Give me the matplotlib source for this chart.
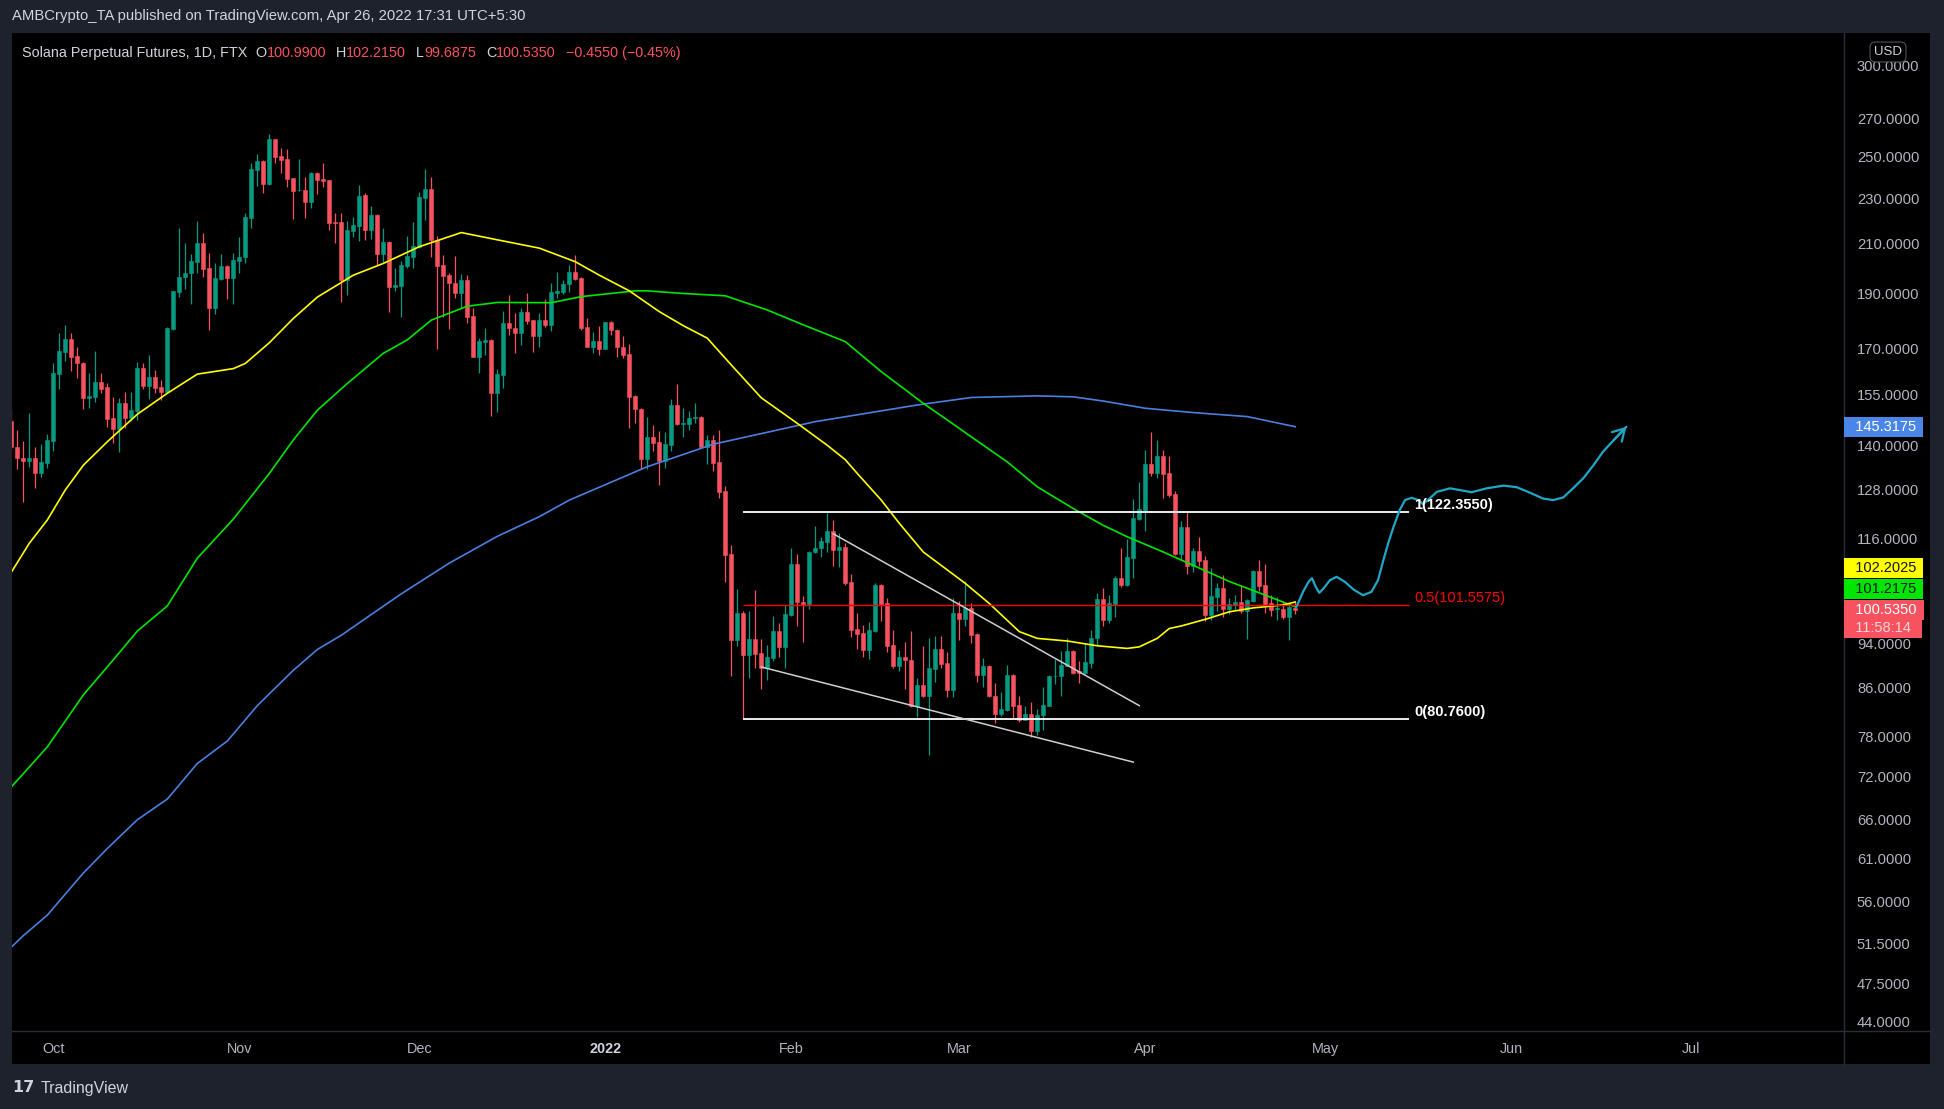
import matplotlib
matplotlib.use('Agg')
import matplotlib.pyplot as plt
import matplotlib.dates as mdates
from matplotlib.lines import Line2D
from matplotlib.patches import Rectangle
from matplotlib.ticker import NullLocator, NullFormatter
import numpy as np
import pandas as pd

plt.rcParams['font.family'] = ['Liberation Sans', 'DejaVu Sans']

# ---- daily candles, SOL-PERP (FTX), 2021-09-24 .. 2022-04-26 ----
dates = pd.date_range('2021-09-24', '2022-04-26', freq='D')
opens = [
    147.0, 139.6, 136.6, 135.7, 136.6, 132.3, 135.2, 141.3, 161.6, 169.0,
    173.3, 167.5, 165.1, 154.0, 154.3, 158.9, 157.3, 147.8, 144.6, 152.3,
    148.0, 150.1, 163.6, 157.8, 160.7, 157.3, 155.8, 176.9, 190.6, 196.2,
    198.0, 202.4, 210.0, 199.7, 184.5, 195.5, 200.7, 196.0, 202.8, 204.4,
    221.1, 243.4, 247.7, 236.6, 258.9, 250.2, 248.7, 239.3, 233.7, 233.8,
    228.3, 242.0, 239.0, 238.5, 219.2, 219.2, 195.1, 215.4, 217.6, 231.4,
    215.7, 222.3, 205.5, 210.5, 192.5, 192.9, 200.8, 204.4, 208.6, 230.2,
    234.2, 211.6, 201.1, 197.1, 194.1, 190.2, 195.1, 181.5, 167.3, 172.1,
    173.0, 155.4, 161.2, 179.1, 177.1, 175.5, 182.9, 180.0, 174.2, 180.0,
    178.3, 190.2, 190.4, 193.4, 198.3, 195.8, 177.6, 170.6, 172.6, 170.0,
    179.3, 176.5, 170.6, 168.2, 154.6, 150.6, 136.3, 142.4, 140.9, 135.7,
    140.1, 151.8, 146.1, 146.2, 147.8, 148.3, 139.6, 141.5, 135.4, 127.7,
    112.5, 94.6, 100.0, 91.9, 94.9, 92.3, 89.6, 91.4, 96.4, 93.3,
    99.6, 110.3, 102.2, 101.8, 112.9, 113.9, 115.3, 117.8, 113.5, 114.1,
    106.4, 96.8, 96.0, 92.8, 96.5, 105.8, 102.0, 93.8, 89.9, 91.6,
    91.0, 83.0, 86.5, 84.7, 89.4, 93.0, 90.4, 85.7, 99.9, 98.8,
    100.9, 95.8, 88.3, 89.9, 84.7, 81.6, 82.3, 88.3, 83.1, 80.7,
    81.6, 78.8, 81.4, 83.0, 88.0, 88.0, 89.9, 92.7, 88.9, 88.6,
    90.5, 95.0, 102.8, 98.6, 101.8, 107.3, 105.7, 111.7, 120.8, 122.9,
    134.8, 132.5, 137.0, 132.4, 127.0, 112.6, 118.9, 109.9, 113.2, 111.1,
    99.6, 103.3, 105.2, 100.8, 101.5, 102.3, 100.3, 102.4, 108.8, 105.7,
    101.9, 100.7, 100.8, 99.1, 100.99,
]
highs = [
    150.6, 144.3, 141.3, 149.3, 139.6, 140.4, 143.1, 165.3, 175.3, 178.1,
    175.3, 170.5, 165.6, 161.8, 169.2, 161.8, 158.6, 154.4, 153.8, 155.8,
    155.9, 165.6, 165.0, 167.8, 163.0, 159.6, 177.4, 191.0, 216.4, 210.0,
    205.4, 219.7, 214.6, 205.8, 201.7, 205.4, 201.1, 206.1, 212.8, 223.0,
    246.6, 251.3, 248.5, 261.6, 259.2, 254.5, 253.8, 239.6, 248.6, 240.1,
    242.5, 242.5, 246.6, 238.7, 223.0, 223.0, 219.7, 221.5, 236.1, 232.2,
    226.3, 222.7, 216.7, 210.8, 200.0, 202.8, 213.1, 219.4, 233.0, 243.8,
    239.8, 213.1, 205.1, 197.7, 204.7, 197.3, 197.0, 184.5, 173.8, 177.1,
    173.2, 163.3, 183.3, 189.3, 182.7, 184.5, 189.9, 180.2, 182.5, 187.8,
    193.8, 198.1, 195.1, 201.1, 205.1, 196.4, 180.9, 175.7, 177.9, 179.5,
    179.7, 176.7, 174.2, 171.6, 154.8, 150.8, 148.3, 145.8, 144.1, 143.9,
    153.6, 158.4, 151.0, 150.0, 152.3, 148.5, 142.9, 142.9, 144.3, 129.0,
    114.6, 104.9, 100.3, 100.3, 104.7, 94.9, 93.8, 99.3, 97.9, 101.6,
    113.8, 112.5, 103.4, 113.2, 119.1, 116.5, 122.1, 120.5, 117.3, 115.0,
    108.2, 99.9, 97.5, 98.2, 106.2, 106.0, 103.0, 96.6, 92.8, 94.3,
    96.4, 87.7, 93.6, 95.0, 95.4, 95.4, 92.5, 103.0, 102.4, 106.7,
    101.9, 96.0, 91.4, 90.1, 86.8, 85.3, 90.1, 88.4, 84.7, 83.0,
    83.6, 82.4, 86.2, 88.3, 91.1, 92.7, 95.0, 92.8, 90.8, 94.1,
    96.6, 104.0, 105.1, 103.6, 107.7, 114.0, 116.0, 125.7, 130.0, 138.7,
    143.8, 141.5, 138.7, 137.0, 127.7, 120.3, 122.7, 113.8, 116.5, 112.0,
    109.4, 106.1, 107.9, 103.1, 103.6, 105.7, 102.8, 109.0, 111.1, 110.2,
    103.6, 103.3, 102.4, 101.9, 102.215,
]
lows = [
    138.5, 133.6, 124.9, 134.1, 128.4, 131.3, 133.8, 138.4, 156.7, 165.9,
    162.6, 160.4, 150.5, 150.8, 152.8, 155.4, 145.3, 140.5, 138.1, 144.8,
    147.0, 147.3, 156.7, 153.5, 155.4, 153.3, 155.4, 176.5, 188.7, 191.8,
    185.8, 197.7, 196.4, 176.3, 182.1, 195.1, 187.9, 186.1, 197.7, 201.7,
    216.4, 235.8, 232.2, 236.3, 246.6, 241.7, 235.3, 220.4, 233.5, 221.1,
    225.3, 231.7, 235.3, 215.7, 210.3, 186.8, 189.3, 212.8, 211.0, 211.4,
    211.7, 201.1, 202.4, 183.1, 190.9, 181.2, 200.0, 200.0, 207.9, 220.1,
    204.4, 169.8, 181.2, 176.8, 188.0, 184.6, 179.0, 167.0, 161.8, 167.8,
    148.5, 149.8, 157.2, 174.7, 168.6, 171.3, 178.6, 169.0, 170.7, 177.5,
    176.0, 188.0, 189.7, 190.6, 195.1, 176.5, 170.4, 168.6, 167.8, 169.8,
    174.7, 167.0, 166.7, 144.8, 146.5, 133.4, 133.6, 138.3, 129.2, 133.8,
    138.5, 145.8, 142.4, 144.3, 146.5, 139.4, 134.8, 132.9, 125.9, 106.4,
    88.1, 93.5, 80.76, 87.7, 89.5, 85.8, 87.3, 90.7, 91.6, 89.5,
    99.4, 97.3, 94.3, 100.7, 112.7, 111.9, 113.0, 109.9, 109.7, 105.8,
    95.3, 93.0, 91.6, 91.1, 96.3, 98.4, 92.5, 89.6, 88.9, 85.8,
    82.8, 81.2, 84.5, 75.2, 87.1, 89.6, 84.4, 84.4, 94.6, 97.4,
    94.2, 87.1, 86.1, 84.4, 80.1, 81.3, 82.1, 80.8, 80.3, 80.6,
    77.9, 78.2, 79.0, 82.9, 86.7, 84.7, 89.8, 88.5, 86.9, 88.5,
    89.5, 93.7, 97.3, 97.9, 99.1, 105.4, 105.6, 107.3, 120.5, 117.8,
    131.7, 131.0, 126.0, 126.3, 112.4, 111.1, 108.2, 108.6, 109.8, 98.4,
    98.6, 100.3, 99.1, 99.8, 100.6, 99.9, 94.9, 102.3, 104.5, 100.0,
    99.4, 98.6, 98.8, 94.6, 99.6875,
]
closes = [
    139.6, 136.4, 135.7, 136.6, 132.3, 135.3, 141.5, 161.8, 169.2, 173.3,
    167.3, 165.1, 154.0, 154.6, 158.9, 156.9, 147.7, 144.6, 152.3, 148.0,
    150.3, 163.6, 157.8, 160.7, 157.2, 155.8, 177.1, 190.8, 196.4, 198.0,
    202.7, 210.0, 199.6, 184.5, 195.8, 200.7, 196.0, 203.1, 204.3, 221.5,
    243.8, 247.7, 236.6, 258.9, 249.9, 248.2, 239.1, 233.5, 233.9, 228.3,
    242.0, 238.5, 238.0, 218.9, 218.7, 195.1, 215.7, 217.9, 230.9, 215.7,
    222.3, 205.5, 210.5, 192.5, 193.1, 201.1, 204.8, 208.9, 230.5, 234.2,
    211.6, 200.8, 196.8, 193.8, 190.2, 195.1, 181.2, 167.3, 172.6, 173.0,
    155.4, 161.6, 179.1, 177.0, 175.5, 182.9, 179.7, 174.2, 180.0, 178.3,
    190.4, 190.8, 193.5, 198.3, 195.5, 177.3, 170.6, 172.6, 170.0, 179.3,
    176.3, 170.4, 167.8, 154.4, 150.5, 136.3, 142.4, 140.7, 135.7, 140.3,
    151.8, 146.1, 146.5, 148.0, 148.3, 139.6, 141.5, 135.1, 127.5, 112.3,
    94.6, 100.0, 91.9, 94.9, 92.1, 89.6, 91.5, 96.4, 93.3, 99.8,
    110.3, 102.1, 101.8, 113.0, 114.0, 115.5, 117.8, 113.5, 114.1, 106.2,
    96.6, 95.9, 92.8, 96.6, 105.8, 101.7, 93.6, 89.9, 91.6, 90.9,
    83.0, 86.5, 84.7, 89.5, 93.0, 90.3, 85.7, 99.9, 98.8, 100.9,
    95.6, 88.3, 89.9, 84.6, 81.6, 82.4, 88.3, 83.0, 80.7, 81.6,
    78.8, 81.5, 83.1, 88.1, 88.1, 90.1, 92.7, 88.7, 88.6, 90.6,
    95.0, 102.8, 98.6, 101.9, 107.3, 105.7, 111.9, 121.0, 123.2, 134.8,
    132.5, 137.0, 132.1, 126.7, 112.6, 118.9, 109.9, 113.2, 111.0, 99.6,
    103.5, 105.2, 100.8, 101.7, 102.3, 100.3, 102.6, 108.8, 105.6, 101.7,
    100.6, 100.9, 99.1, 101.1, 100.535,
]

# ---- moving averages ----
ma_yellow_dates = ['2021-09-24', '2021-09-27', '2021-09-30', '2021-10-03', '2021-10-06', '2021-10-10',
                   '2021-10-15', '2021-10-20', '2021-10-25', '2021-10-31', '2021-11-02', '2021-11-06',
                   '2021-11-10', '2021-11-14', '2021-11-20', '2021-11-25', '2021-12-01', '2021-12-08',
                   '2021-12-14', '2021-12-21', '2021-12-27', '2021-12-31', '2022-01-05', '2022-01-10',
                   '2022-01-14', '2022-01-18', '2022-01-22', '2022-01-27', '2022-02-02', '2022-02-07',
                   '2022-02-10', '2022-02-12', '2022-02-16', '2022-02-19', '2022-02-23', '2022-02-27',
                   '2022-03-02', '2022-03-06', '2022-03-09', '2022-03-11', '2022-03-14', '2022-03-19',
                   '2022-03-24', '2022-03-29', '2022-03-31', '2022-04-03', '2022-04-05', '2022-04-07',
                   '2022-04-11', '2022-04-15', '2022-04-19', '2022-04-24', '2022-04-26']
ma_yellow = [108.5, 115.0, 120.5, 128.0, 134.5, 141.0, 149.0, 155.4, 161.5, 163.3, 165.0, 172.0,
             180.6, 188.5, 197.0, 201.7, 208.6, 214.6, 211.5, 208.0, 202.4, 197.0, 190.9, 183.1,
             178.0, 173.6, 164.5, 154.0, 146.3, 140.0, 136.0, 132.3, 125.4, 119.7, 113.0, 109.0,
             106.1, 101.9, 98.5, 96.3, 95.0, 94.5, 93.6, 93.1, 93.4, 95.0, 96.9, 97.4,
             98.7, 100.2, 101.0, 101.6, 102.2025]

ma_green_dates = ['2021-09-24', '2021-09-26', '2021-09-30', '2021-10-06', '2021-10-11', '2021-10-15',
                  '2021-10-20', '2021-10-25', '2021-10-31', '2021-11-06', '2021-11-10', '2021-11-14',
                  '2021-11-19', '2021-11-25', '2021-11-29', '2021-12-03', '2021-12-09', '2021-12-14',
                  '2021-12-23', '2021-12-28', '2022-01-06', '2022-01-08', '2022-01-14', '2022-01-21',
                  '2022-01-28', '2022-02-03', '2022-02-10', '2022-02-16', '2022-02-23', '2022-02-27',
                  '2022-03-03', '2022-03-09', '2022-03-14', '2022-03-20', '2022-03-25', '2022-03-29',
                  '2022-04-04', '2022-04-09', '2022-04-15', '2022-04-20', '2022-04-26']
ma_green = [70.5, 72.4, 76.4, 84.8, 91.0, 96.4, 101.4, 111.6, 120.7, 132.3, 141.5, 150.2,
            158.5, 168.4, 173.0, 180.0, 185.1, 186.5, 186.4, 188.7, 190.9, 190.9, 189.9, 189.0,
            183.7, 178.3, 172.4, 162.3, 152.3, 147.3, 142.4, 135.4, 128.8, 123.3, 119.2, 116.5,
            113.0, 110.0, 106.5, 104.1, 101.2175]

ma_blue_dates = ['2021-09-24', '2021-09-26', '2021-09-30', '2021-10-06', '2021-10-10', '2021-10-15',
                 '2021-10-20', '2021-10-25', '2021-10-30', '2021-11-04', '2021-11-10', '2021-11-14',
                 '2021-11-18', '2021-11-28', '2021-12-06', '2021-12-14', '2021-12-21', '2021-12-26',
                 '2022-01-08', '2022-01-19', '2022-02-05', '2022-02-22', '2022-03-03', '2022-03-14',
                 '2022-03-20', '2022-03-25', '2022-04-01', '2022-04-09', '2022-04-18', '2022-04-26']
ma_blue = [51.1, 52.3, 54.5, 59.3, 62.3, 66.0, 68.8, 73.9, 77.3, 83.0, 89.1, 92.9,
           95.6, 103.9, 110.5, 116.6, 121.3, 125.4, 134.1, 140.3, 146.8, 151.8, 154.1, 154.6,
           154.3, 153.0, 150.8, 149.5, 148.3, 145.3175]

# ---- drawings ----
fib_start, fib_end = '2022-01-24', '2022-05-15'
fib_levels = [122.355, 101.5575, 80.76]
fib_labels = ['1(122.3550)', '0.5(101.5575)', '0(80.7600)']
wedge_upper = (['2022-02-08', '2022-03-31'], [117.2, 83.0])
wedge_lower = (['2022-01-27', '2022-03-30'], [89.7, 74.1])
# projected path: days after the last candle, price
path_days = [0.2, 1.3, 2.2, 2.8, 3.4, 4.0, 4.7, 5.8, 6.9, 8.3, 9.7, 11.3, 12.7, 13.8, 14.7, 15.5,
             16.3, 17.4, 18.3, 19.4, 20.5, 21.3, 22.4, 23.6, 25.8, 28.0, 29.4, 31.9, 34.7, 36.9,
             39.1, 41.3, 43.0, 44.7, 46.3, 48.0, 49.7, 51.3, 53.0, 55.2]
path_price = [101.2, 104.3, 106.4, 107.2, 105.4, 104.1, 105.0, 106.8, 107.5, 106.4, 104.8, 103.6,
              104.3, 106.8, 111.2, 115.0, 118.5, 122.9, 125.4, 126.0, 125.4, 124.4, 125.8, 127.5,
              128.4, 127.8, 127.4, 128.4, 129.1, 128.7, 127.3, 125.8, 125.4, 126.1, 128.4, 131.0,
              134.5, 138.2, 141.3, 145.3]

price_ticks = [300, 270, 250, 230, 210, 190, 170, 155, 140, 128, 116, 94, 86, 78, 72, 66, 61, 56,
               51.5, 47.5, 44]
month_ticks = ['2021-10-01', '2021-11-01', '2021-12-01', '2022-01-01', '2022-02-01', '2022-03-01',
               '2022-04-01', '2022-05-01', '2022-06-01', '2022-07-01']
month_labels = ['Oct', 'Nov', 'Dec', '2022', 'Feb', 'Mar', 'Apr', 'May', 'Jun', 'Jul']

UP, DOWN = '#089981', '#f7525f'
YEL, GRN, BLU, CYAN = '#ffff00', '#00e600', '#4a7fe0', '#1fa7c6'
TXT = '#d1d4dc'
AXT = '#b2b5be'
FRAME = '#1e222d'
SEP = '#2a2e39'

W, H = 1944, 1109
def fx(px):
    return px / W
def fy(py):
    return 1 - py / H

fig = plt.figure(figsize=(W / 100, H / 100), dpi=100, facecolor=FRAME)
fig.patches.append(Rectangle((fx(12), fy(1064)), fx(1930) - fx(12), fy(33) - fy(1064),
                             transform=fig.transFigure, facecolor='black', edgecolor='none', zorder=-5))
ax = fig.add_axes([fx(12), fy(1030), fx(1843) - fx(12), fy(35) - fy(1030)])
ax.set_zorder(1)
ax.set_facecolor('black')
for s in ax.spines.values():
    s.set_visible(False)
ax.set_yscale('log')
ax.set_ylim(43.27, 319.1)
x0 = mdates.date2num(pd.Timestamp('2021-09-25'))
ax.set_xlim(x0 - 0.89, x0 + 304.3)

# candles
xs = mdates.date2num(dates)
o, h, l, c = map(np.array, (opens, highs, lows, closes))
cols = np.where(c >= o, UP, DOWN)
ax.vlines(xs, l, h, colors=cols, lw=0.9, zorder=3)
ax.bar(xs, np.abs(c - o), bottom=np.minimum(o, c), width=0.72, color=cols,
       edgecolor=cols, lw=0.4, zorder=4)

# moving averages
ax.plot(pd.to_datetime(ma_blue_dates), ma_blue, color=BLU, lw=1.2, zorder=5, solid_joinstyle='round')
ax.plot(pd.to_datetime(ma_green_dates), ma_green, color=GRN, lw=1.2, zorder=5, solid_joinstyle='round')
ax.plot(pd.to_datetime(ma_yellow_dates), ma_yellow, color=YEL, lw=1.2, zorder=5, solid_joinstyle='round')

# fib retracement
fs, fe = pd.Timestamp(fib_start), pd.Timestamp(fib_end)
for lvl, lab, colr in zip(fib_levels, fib_labels, ['white', '#ff0000', 'white']):
    ax.hlines(lvl, fs, fe, colors=colr, lw=1.3 if colr == 'white' else 1.0, zorder=6)
    ax.annotate(lab, xy=(mdates.date2num(fe), lvl), xytext=(5, 0), textcoords='offset pixels',
                ha='left', va='bottom', color=colr, fontsize=10.5,
                fontweight='bold' if colr == 'white' else 'normal', zorder=7)

# falling wedge
for xd, yv in (wedge_upper, wedge_lower):
    ax.plot(pd.to_datetime(xd), yv, color='#cfcfcf', lw=1.1, zorder=6)

# projected path
last = mdates.date2num(dates[-1])
px_ = last + np.array(path_days)
ax.plot(px_, path_price, color=CYAN, lw=1.6, zorder=6, solid_joinstyle='round', solid_capstyle='round')
ax.annotate('', xy=(px_[-1], path_price[-1]), xytext=(px_[-2], path_price[-2]),
            arrowprops=dict(arrowstyle='->,head_length=0.6,head_width=0.35', color=CYAN, lw=1.6,
                            shrinkA=0, shrinkB=0, mutation_scale=14), zorder=6)

# axes ticks
ax.yaxis.tick_right()
ax.yaxis.set_minor_locator(NullLocator())
ax.yaxis.set_minor_formatter(NullFormatter())
ax.set_yticks(price_ticks)
ax.set_yticklabels([f'{v:.4f}' for v in price_ticks])
ax.tick_params(axis='y', which='both', length=0, pad=10, labelcolor=AXT, labelsize=10.6)
ax.set_xticks(mdates.date2num(pd.to_datetime(month_ticks)))
ax.set_xticklabels(month_labels)
ax.tick_params(axis='x', length=0, pad=8.5, labelcolor=AXT, labelsize=10.4)
for t in ax.get_xticklabels():
    if t.get_text() == '2022':
        t.set_fontweight('bold')
        t.set_color(TXT)

# price tags on the scale
def tag(price, text, fc, tc, dy=0.0, z=10):
    ax.annotate(text, xy=(1, price), xycoords=('axes fraction', 'data'), xytext=(4, dy),
                textcoords='offset pixels', ha='left', va='center', color=tc, fontsize=10.5,
                bbox=dict(boxstyle='square,pad=0.2', fc=fc, ec='none'), annotation_clip=False, zorder=z)

tag(ma_blue[-1], '  %.4f ' % ma_blue[-1], '#4a86e8', 'white')
tag(closes[-1], '  11:58:14  ', DOWN, '#ffd6da', dy=-18, z=10)
tag(closes[-1], '  %.4f ' % closes[-1], DOWN, 'white', dy=0, z=11)
tag(closes[-1], '  %.4f ' % ma_green[-1], GRN, '#131722', dy=21.5, z=11)
tag(closes[-1], '  %.4f ' % ma_yellow[-1], YEL, '#131722', dy=42.5, z=11)

# separators
fig.add_artist(Line2D([fx(1844), fx(1844)], [fy(33), fy(1064)], color=SEP, lw=1, zorder=-1))
fig.add_artist(Line2D([fx(12), fx(1930)], [fy(1030.5), fy(1030.5)], color=SEP, lw=1, zorder=-1))

# header, legend, footer
fig.text(fx(12), fy(16), 'AMBCrypto_TA published on TradingView.com, Apr 26, 2022 17:31 UTC+5:30',
         color=TXT, fontsize=10.7, va='center', ha='left')
fig.text(fx(1888), fy(52), 'USD', color=TXT, fontsize=9.5, va='center', ha='center', zorder=5,
         bbox=dict(boxstyle='round,pad=0.3,rounding_size=0.4', fc='black', ec='#50535e', lw=0.8))

renderer = fig.canvas.get_renderer()
parts = [('Solana Perpetual Futures, 1D, FTX', TXT, 8), ('O', TXT, 0), ('%.4f' % opens[-1], DOWN, 10),
         ('H', TXT, 0), ('%.4f' % highs[-1], DOWN, 10), ('L', TXT, 0), ('%.4f' % lows[-1], DOWN, 10),
         ('C', TXT, 0), ('%.4f' % closes[-1], DOWN, 10), ('\u22120.4550 (\u22120.45%)', DOWN, 0)]
xp = 22
for s, colr, gap in parts:
    t = fig.text(fx(xp), fy(53), s, color=colr, fontsize=10.4, va='center', ha='left', zorder=5)
    bb = t.get_window_extent(renderer=renderer)
    xp = bb.x1 + gap

fig.text(fx(12), fy(1088), '17', color=TXT, fontsize=11.5, fontweight='bold', va='center', ha='left',
         family='DejaVu Sans')
fig.text(fx(41), fy(1088), 'TradingView', color=TXT, fontsize=11.5, va='center', ha='left')

fig.savefig('out.png', dpi=100, facecolor=FRAME)
